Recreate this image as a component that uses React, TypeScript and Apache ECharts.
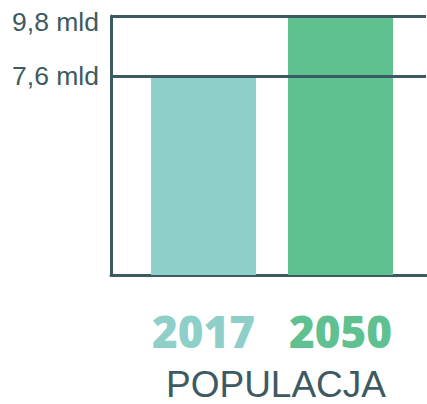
import React, { useEffect, useRef } from "react";
import * as echarts from "echarts";

const years = ["2017", "2050"];
const population = [7.6, 9.8];
const yearColors = ["#8ecfca", "#5ec18f"];
const yTicks = [7.6, 9.8];
const axisTitle = "POPULACJA";

const DARK = "#3d5a62";

export default function App() {
  const ref = useRef<HTMLDivElement>(null);
  useEffect(() => {
    if (!ref.current) return;
    const chart = echarts.init(ref.current, undefined, { renderer: "svg" });
    const idx = years.map((_, i) => i + 1);
    chart.setOption({
      animation: false,
      grid: { left: 111, right: 1, top: 16, bottom: 129, containLabel: false },
      xAxis: {
        type: "value",
        min: 0.3246,
        max: 2.624,
        splitLine: { show: false },
        axisTick: { show: false },
        axisLine: { show: true, lineStyle: { color: DARK, width: 3 } },
        axisLabel: {
          customValues: idx,
          margin: 34,
          formatter: (v: number) => {
            const i = Math.round(v) - 1;
            return `{y${i}|${years[i] ?? ""}}`;
          },
          rich: {
            y0: { color: yearColors[0], fontSize: 44, fontWeight: 800, fontFamily: "Open Sans" },
            y1: { color: yearColors[1], fontSize: 44, fontWeight: 800, fontFamily: "Open Sans" },
          },
        },
      },
      yAxis: {
        type: "value",
        min: 0.34,
        max: 9.8,
        splitLine: { show: false },
        axisTick: { show: false },
        axisLine: { show: true, lineStyle: { color: DARK, width: 3 } },
        axisLabel: {
          customValues: yTicks,
          margin: 12,
          color: DARK,
          fontSize: 26.5,
          fontFamily: "Liberation Sans",
          formatter: (v: number) => {
            const s = String(v).replace(".", ",") + " mld";
            return v >= 9.8 ? `{t|${s}}` : `{n|${s}}`;
          },
          rich: {
            t: { color: DARK, fontSize: 26.5, fontFamily: "Liberation Sans", padding: [11, 0, 0, 0] },
            n: { color: DARK, fontSize: 26.5, fontFamily: "Liberation Sans" },
          },
        },
      },
      graphic: [
        {
          type: "text",
          left: 166,
          top: 366,
          style: {
            text: axisTitle,
            fill: DARK,
            fontSize: 37,
            fontFamily: "Liberation Sans",
          },
        },
      ],
      series: [
        {
          type: "bar",
          barWidth: 105,
          data: population.map((v, i) => ({
            value: [idx[i], v],
            itemStyle: { color: yearColors[i] },
          })),
          markLine: {
            silent: true,
            symbol: "none",
            label: { show: false },
            lineStyle: { color: DARK, width: 3, type: "solid" },
            data: yTicks.map((t) => ({ yAxis: t })),
          },
        },
      ],
    });
    return () => chart.dispose();
  }, []);
  return <div ref={ref} style={{ width: 427, height: 404, position: "absolute", left: 0, top: 0 }} />;
}
